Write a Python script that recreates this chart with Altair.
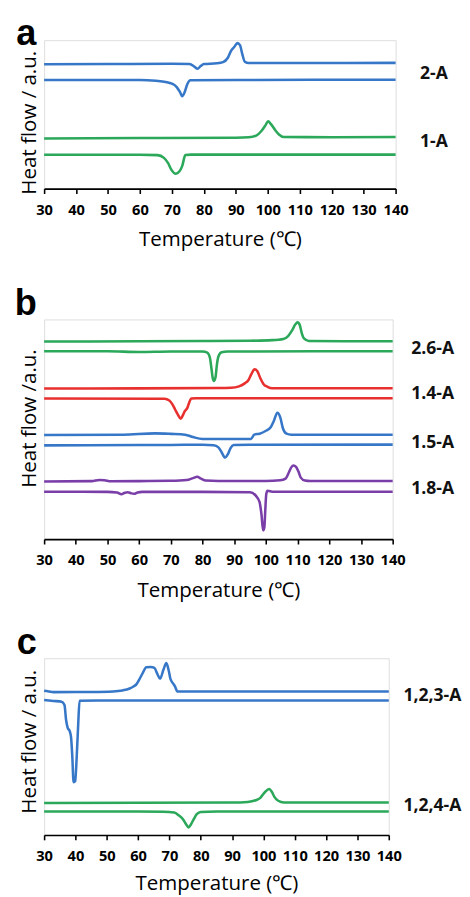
import altair as alt
import pandas as pd

# ---------------- data (temperature in degC, heat flow in a.u.) ----------------
TICKS = list(range(30, 141, 10))

# panel a
a_2A_heating = [(30,127.3),(50,127.6),(70,127.9),(75.5,127.6),(77,125),(78,122.7),(79,125.5),(80,127.6),
                (84,128.3),(86,129.5),(87.5,134),(88.5,141),(89.5,145),(90.5,149),(91.3,147),(92,138),
                (92.8,130),(94,128.6),(110,128.7),(140,128.8)]
a_2A_cooling = [(30,111.3),(60,111.2),(65,110.4),(68,109.3),(70,107.5),(71.5,104),(72.5,99),(73.2,94.7),
                (74,99),(74.8,107),(75.8,111),(90,111.3),(140,111.5)]
a_1A_heating = [(30,51.3),(60,51.8),(90,52.2),(94,52.6),(96.5,54.5),(98,59),(99.3,65),(100.1,69),(101,66),
                (102.3,60),(103.5,55.5),(105,52.8),(120,52.7),(140,52.8)]
a_1A_cooling = [(30,34.7),(60,34.7),(65.5,34.3),(67.5,31.5),(68.8,26),(69.8,19.5),(71.2,15.3),(72.3,17.5),
                (73.2,23),(74.2,34.3),(76,34.8),(140,34.8)]
a_samples = ["2-A", "1-A"]
a_label_pos = [117, 48]

# panel b
b_26A_heating = [(30,202.3),(60,202.6),(80,202.9),(95,203.2),(102,203.8),(105.5,205),(107,208),(108.3,214),
                 (109.3,220),(110,222),(110.7,219),(111.3,211),(112,205.5),(113.5,203),(125,202.7),(140,202.7)]
b_26A_cooling = [(30,192.4),(50,192.4),(60,191.7),(70,192.2),(80,192.1),(81.5,191),(82.3,186),(82.8,175),
                 (83.2,165),(83.6,162),(84.1,166),(84.5,178),(85,187),(86,191.5),(88,192.2),(140,192.4)]
b_14A_heating = [(30,154.2),(60,154.4),(85,154.7),(89,155),(91.5,156.5),(93.3,159.5),(94.5,163),(95.4,169),
                 (96.4,174),(97.3,172),(98.2,165),(99.2,159),(100.5,156),(102,154.6),(140,154.6)]
b_14A_cooling = [(30,144),(68,143.8),(69.5,142),(70.5,138),(71.3,133),(72.3,127),(73.1,123.4),(73.8,127),
                 (74.4,131),(75.2,134.4),(75.8,140),(76.4,144),(78,144.2),(140,144.2)]
b_15A_heating = [(30,106.6),(55,107),(65,108.3),(70,107.8),(74.5,107),(77,104.5),(80,102.5),(88,102.5),
                 (95.3,102.6),(96.3,107),(98,108),(100,111),(101.5,114.5),(102.5,121),(103.6,129.4),
                 (104.5,125),(105.4,113),(106.5,108),(108,107),(140,107)]
b_15A_cooling = [(30,96),(60,96.3),(70,96.5),(80,96.7),(83.5,96.2),(85,94),(86,89),(87.1,83.5),(88,87),
                 (88.8,93),(89.8,96.3),(95,96.7),(140,96.8)]
b_18A_heating = [(30,59),(45,59.4),(47.5,60.5),(49,60.3),(51,59.2),(60,59.4),(70,59.7),(75,60.5),(77,62.5),
                 (78.3,63.8),(79.5,62),(81,60),(85,59.6),(100,59.6),(104.5,60.2),(106.2,62),(107.2,68),
                 (108,73.5),(108.7,75.4),(109.5,74),(110.3,69),(111,63),(112.3,60),(114,59.5),(140,59.5)]
b_18A_cooling = [(30,48.6),(50,48.4),(53,47.8),(54.4,46),(55.5,47.5),(56.4,48),(57.4,47),(58.4,46.4),
                 (59.5,47.8),(61,48.4),(80,48.4),(95,48),(96.8,44.5),(98,38),(98.6,25),(99.1,9),(99.5,12),
                 (99.8,30),(100.1,46),(100.5,49.5),(102,48.6),(140,48.6)]
b_samples = ["2.6-A", "1.4-A", "1.5-A", "1.8-A"]
b_label_pos = [194.7, 148.7, 98.7, 51.7]

# panel c
c_123A_heating = [(30,147.7),(31.5,147),(33,146.3),(45,146.5),(52,147),(55,148),(57.3,150),(58.5,152),
                  (59.5,154.5),(60.4,159.4),(61.5,166),(62.6,171.7),(64,172),(65.2,171),(66.2,164.4),
                  (67,160),(68.1,169.4),(69,176),(69.8,168),(70.3,160),(71.2,155),(71.8,152),(72.5,147),
                  (90,147),(140,147)]
c_123A_cooling = [(30,138.3),(33,137.3),(35.6,136.5),(36.5,133),(37,118),(37.5,110),(38.2,106),(38.6,100),
                  (39,80),(39.4,54),(39.9,55),(40.4,80),(40.9,115),(41.3,137.5),(60,137.7),(140,137.7)]
c_124A_heating = [(30,32.7),(60,33),(90,33.2),(95,33.8),(97.5,35.5),(99,38),(100.5,44),(101.8,47),(102.7,44),
                  (103.5,39),(104.7,35),(106.5,33.3),(140,33.3)]
c_124A_cooling = [(30,24),(60,24),(68,23.8),(71.5,23),(73,20),(74.3,16),(75.3,11),(76.1,7.7),(76.9,11),
                  (77.8,16.5),(78.8,21.5),(80,23.5),(85,24),(140,24)]
c_samples = ["1,2,3-A", "1,2,4-A"]
c_label_pos = [142.7, 29.7]

BLUE, GREEN, RED, PURPLE = "#3777c8", "#2ba85a", "#e8302f", "#7a3ea8"
FONT = "Open Sans"


def make_df(pairs):
    rows = []
    for sample, kind, pts in pairs:
        for t, hf in pts:
            rows.append({"T": t, "HF": hf, "sample": sample, "curve": sample + " " + kind})
    return pd.DataFrame(rows)


def panel(pairs, samples, colors, label_pos, letter, letter_x, letter_y, width, height,
          ytitle, title_y, label_x, title_pad, box):
    df = make_df(pairs)
    xaxis = alt.Axis(values=TICKS, grid=False, domainColor="black", domainWidth=1.6,
                     tickColor="black", tickWidth=1.6, tickSize=5, labelFont=FONT,
                     labelFontWeight="bold", labelFontSize=15, labelColor="black",
                     labelPadding=9.5, labelFlush=False, title="Temperature (℃)", titleFont=FONT,
                     titleFontSize=21, titleFontWeight="normal", titleColor="black",
                     titlePadding=title_pad)
    yaxis = alt.Axis(labels=False, ticks=False, domain=False, grid=False, title=ytitle,
                     titleFont=FONT, titleFontSize=21, titleFontWeight="normal",
                     titleColor="black", titlePadding=5, titleY=title_y)
    lines = alt.Chart(df).mark_line(interpolate="monotone", strokeWidth=2.6).encode(
        x=alt.X("T:Q", scale=alt.Scale(domain=[30, 140], nice=False, zero=False), axis=xaxis),
        y=alt.Y("HF:Q", scale=alt.Scale(domain=[0, height], nice=False, zero=False), axis=yaxis),
        color=alt.Color("sample:N", scale=alt.Scale(domain=samples, range=colors), legend=None),
        detail="curve:N",
        order="T:Q",
    )
    ldf = pd.DataFrame({"label": samples, "HF": label_pos})
    labels = alt.Chart(ldf).mark_text(align="left", baseline="middle", font=FONT, fontSize=18,
                                      fontWeight="bold", color="#111").encode(
        x=alt.value(label_x), y=alt.Y("HF:Q"), text="label:N")
    letdf = pd.DataFrame({"letter": [letter]})
    let = alt.Chart(letdf).mark_text(align="left", baseline="alphabetic", font="Liberation Sans",
                                     fontSize=37, fontWeight="bold", color="black").encode(
        x=alt.value(letter_x), y=alt.value(letter_y), text="letter:N")
    # invisible frame that fixes the panel's extent inside the stacked layout
    left, top, bottom = box
    frame = alt.Chart(letdf).mark_rule(strokeOpacity=0, strokeWidth=0).encode(
        x=alt.value(-left), y=alt.value(-top), y2=alt.value(height + bottom))
    return alt.layer(lines, labels, let, frame).properties(width=width, height=height)


pa = panel([("2-A", "heating", a_2A_heating), ("2-A", "cooling", a_2A_cooling),
            ("1-A", "heating", a_1A_heating), ("1-A", "cooling", a_1A_cooling)],
           a_samples, [BLUE, GREEN], a_label_pos, "a", -28.5, 5, 360, 152,
           "Heat flow / a.u.", 84, 385, 12, (31, 31, 84))
pb = panel([("2.6-A", "heating", b_26A_heating), ("2.6-A", "cooling", b_26A_cooling),
            ("1.4-A", "heating", b_14A_heating), ("1.4-A", "cooling", b_14A_cooling),
            ("1.5-A", "heating", b_15A_heating), ("1.5-A", "cooling", b_15A_cooling),
            ("1.8-A", "heating", b_18A_heating), ("1.8-A", "cooling", b_18A_cooling)],
           b_samples, [GREEN, RED, BLUE, PURPLE], b_label_pos, "b", -30, -5, 357, 225,
           "Heat flow /a.u.", 101, 376, 12, (32.5, 48, 78))
pc = panel([("1,2,3-A", "heating", c_123A_heating), ("1,2,3-A", "cooling", c_123A_cooling),
            ("1,2,4-A", "heating", c_124A_heating), ("1,2,4-A", "cooling", c_124A_cooling)],
           c_samples, [BLUE, GREEN], c_label_pos, "c", -28, -4, 353, 181,
           "Heat flow / a.u.", 85, 368, 9, (30.5, 42, 70))

chart = alt.vconcat(pa, pb, pc, spacing=0).resolve_scale(color="independent").properties(
    padding={"left": 4, "top": -10, "right": 0, "bottom": 0}
).configure_view(stroke=None).configure(background="white")

chart.save("out.html", embed_options={"renderer": "svg", "actions": False})
